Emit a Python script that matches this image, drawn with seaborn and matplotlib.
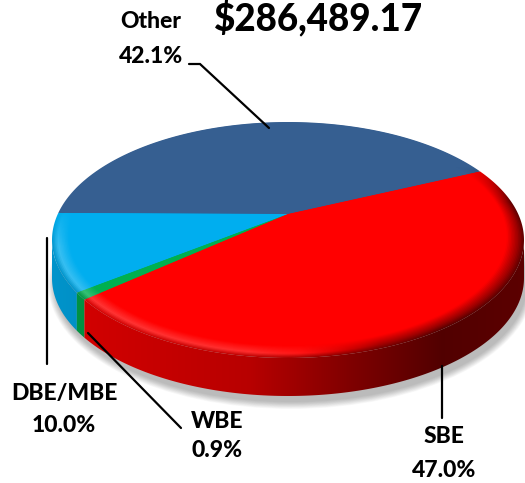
import numpy as np
import pandas as pd
import seaborn as sns
import matplotlib.pyplot as plt
from matplotlib.patches import Ellipse, Polygon

categories = ['Other', 'DBE/MBE', 'WBE', 'SBE']
shares = [42.1, 10.0, 0.9, 47.0]
share_labels = ['42.1%', '10.0%', '0.9%', '47.0%']
total_label = '$286,489.17'
slice_colors = ['#365F91', '#00AEEF', '#00B050', '#FF0000']

# pie geometry in pixels, the apex sits above the ellipse centre (perspective)
CX, CY, A, B = 288, 240, 236, 118
TILT = 0.22
DEPTH = 38
START = 26
RIM = 0.93

sns.set_theme(style='white')
plt.rcParams['font.family'] = ['Lato', 'DejaVu Sans']

df = pd.DataFrame({'category': categories, 'share': shares})
df['end'] = START + df['share'].cumsum() * 3.6
df['start'] = df['end'].shift(1).fillna(START)
palette = sns.color_palette(slice_colors)

X, Y = np.meshgrid(np.arange(525) + 0.5, np.arange(483) + 0.5)


def project(theta, r=1.0):
    # small angular warp, the original 3D view is not a clean projection
    t = np.radians(theta + np.interp(theta, [26, 178, 217, 386], [-1.6, 1.9, 4.0, -1.6]))
    u = r * np.cos(t)
    v = r * np.sin(t)
    w = 1 + TILT * v
    x = u * np.sqrt(1 - TILT ** 2) / w
    y = (v + TILT) / w
    return CX + A * x, CY - B * y


def wall_shade(x):
    return np.interp(x, [52, 90, 250, 350, 442, 525], [0.85, 0.82, 0.72, 0.50, 0.32, 0.36])


def wall_rgb(color):
    return np.array(color)[None, None, :] * wall_shade(X)[:, :, None]


def rim_rgb(color, s):
    # s runs from the flat top (0) to the start of the wall (1)
    color = np.array(color)[None, None, :]
    wall = wall_rgb(color[0, 0])
    glow = np.interp(X, [52, 250, 350], [0.22, 0.18, 0.0])[:, :, None]
    dark = np.interp(X, [300, 380], [0.0, 0.6])[:, :, None]
    high = color + (1 - color) * glow
    high = high * (1 - dark) + wall * dark
    if s < 0.65:
        c = color + (high - color) * s / 0.65
    else:
        c = high + (wall - high) * (s - 0.65) / 0.35
    ny = (CY - Y) / B
    start = np.where(X > CX, 0.62, 0.25)
    w = np.clip((start - ny) / 0.3, 0, 1)[:, :, None]
    return np.clip(color * (1 - w) + c * w, 0, 1)


def paint(rgb, poly, zorder):
    im = ax.imshow(rgb, extent=(0, 525, 483, 0), aspect='auto', zorder=zorder, interpolation='bilinear')
    im.set_clip_path(Polygon(poly, closed=True, transform=ax.transData))


fig = plt.figure(figsize=(5.25, 4.83), dpi=100)
ax = fig.add_axes([0, 0, 1, 1])

# soft shadow under the pie
for grow in np.linspace(14, 0, 12):
    ax.add_patch(Ellipse((CX + 3, CY + DEPTH + 6), 2 * A + grow, 2 * B + grow,
                         color='black', alpha=0.022, lw=0))

apex = (CX, CY - B * TILT)
levels = np.linspace(1.0, RIM, 13)
for row, color in zip(df.itertuples(), palette):
    angles = np.linspace(row.start, row.end, 240)
    x, y = project(angles)

    # side wall, only where the edge faces the viewer
    front = y >= CY - 1
    if front.any():
        fx, fy = x[front], y[front]
        poly = np.c_[np.r_[fx, fx[::-1]], np.r_[fy, fy[::-1] + DEPTH]]
        paint(wall_rgb(color), poly, 2)

    # bevel, painted from the outer edge towards the middle
    for i, r in enumerate(levels[:-1]):
        s = 1 - (i + 0.5) / (len(levels) - 1)
        lx, ly = project(angles, r)
        paint(rim_rgb(color, s), np.r_[[apex], np.c_[lx, ly]], 3 + i * 0.01)

    # flat top
    lx, ly = project(angles, RIM)
    ax.fill(np.r_[apex[0], lx], np.r_[apex[1], ly], color=color, lw=0, zorder=4)

ax.set_xlim(0, 525)
ax.set_ylim(483, 0)
ax.axis('off')

# leader lines
leaders = [
    ([189, 200, 269], [64, 64, 128]),
    ([47, 47], [238, 364]),
    ([88, 181], [333, 428]),
    ([442, 442], [366, 418]),
]
for lx, ly in leaders:
    ax.plot(lx, ly, color='black', lw=1.6, zorder=5, solid_joinstyle='miter')

label_pos = {'Other': (151, 28, 63), 'DBE/MBE': (64, 400, 432), 'WBE': (217, 428, 457), 'SBE': (444, 443, 477)}
for name, share in zip(categories, share_labels):
    px, y1, y2 = label_pos[name]
    ax.text(px, y1, name, ha='center', va='baseline', fontsize=16.5, fontweight='black', color='black')
    ax.text(px, y2, share, ha='center', va='baseline', fontsize=16.5, fontweight='black', color='black')

ax.text(319, 30, total_label, ha='center', va='baseline', fontsize=26.5, fontweight='black', color='black')

fig.savefig('out.png', dpi=100)
